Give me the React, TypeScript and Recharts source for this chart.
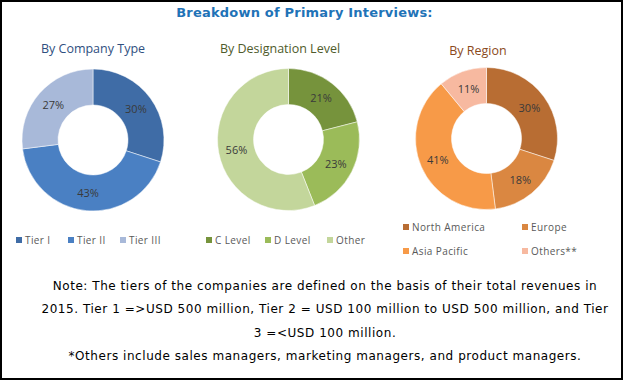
import React from "react";
import { PieChart, Pie, Cell } from "recharts";

const companyTypes = ["Tier I", "Tier II", "Tier III"];
const companyValues = [30, 43, 27];
const companyColors = ["#3F6CA6", "#4A80C3", "#A8B9D9"];

const designationLevels = ["C Level", "D Level", "Other"];
const designationValues = [21, 23, 56];
const designationColors = ["#76933C", "#9BBB59", "#C3D69B"];

const regions = ["North America", "Europe", "Asia Pacific", "Others**"];
const regionValues = [30, 18, 41, 11];
const regionColors = ["#B86D33", "#DA8741", "#F79A48", "#F7B9A0"];

const titleText = "Breakdown of Primary Interviews:";
const subtitles = ["By Company Type", "By Designation Level", "By Region"];
const noteLines = [
  "Note: The tiers of the companies are defined on the basis of their total revenues in",
  "2015. Tier 1 =>USD 500 million, Tier 2 = USD 100 million to USD 500 million, and Tier",
  "3 =<USD 100 million.",
  "*Others include sales managers, marketing managers, and product managers.",
];

const build = (names: string[], values: number[]) =>
  names.map((name, i) => ({ name, value: values[i] }));

const RAD = Math.PI / 180;
const renderLabel = (props: any) => {
  const { cx, cy, midAngle, innerRadius, outerRadius, value } = props;
  const r = (innerRadius + outerRadius) / 2;
  const x = cx + r * Math.cos(-midAngle * RAD);
  const y = cy + r * Math.sin(-midAngle * RAD);
  return (
    <text
      x={x}
      y={y}
      textAnchor="middle"
      dominantBaseline="central"
      fill="#3a3a3a"
      fontFamily="'Open Sans', sans-serif"
      fontSize={11}
    >
      {value}%
    </text>
  );
};

type LegendPos = { x: number; y: number };

const Legend = ({ names, colors, pos }: { names: string[]; colors: string[]; pos: LegendPos[] }) => (
  <>
    {names.map((n, i) => (
      <div
        key={n}
        style={{
          position: "absolute",
          left: pos[i].x,
          top: pos[i].y - 7,
          height: 14,
          display: "flex",
          alignItems: "center",
          fontFamily: "'Open Sans', sans-serif",
          fontSize: 10,
          letterSpacing: 0.4,
          color: "#595959",
          whiteSpace: "nowrap",
        }}
      >
        <span style={{ display: "inline-block", width: 6, height: 6, background: colors[i], marginRight: 3 }} />
        {n}
      </div>
    ))}
  </>
);

const legend1Pos = [
  { x: 16, y: 240 },
  { x: 68, y: 240 },
  { x: 120, y: 240 },
];
const legend2Pos = [
  { x: 206, y: 240 },
  { x: 265, y: 240 },
  { x: 327, y: 240 },
];
const legend3Pos = [
  { x: 403, y: 227 },
  { x: 522, y: 227 },
  { x: 403, y: 251 },
  { x: 522, y: 251 },
];

const subtitleStyle = (left: number, top: number, color: string): React.CSSProperties => ({
  position: "absolute",
  left,
  top,
  width: 200,
  marginLeft: -100,
  textAlign: "center",
  fontFamily: "'Open Sans', sans-serif",
  fontSize: 12.5,
  color,
  whiteSpace: "nowrap",
});

const noMargin = { top: 0, right: 0, bottom: 0, left: 0 };

export default function App() {
  return (
    <div
      style={{
        position: "absolute",
        left: 0,
        top: 0,
        width: 623,
        height: 380,
        boxSizing: "border-box",
        border: "2px solid #000",
        background: "#fff",
        overflow: "hidden",
      }}
    >
      <div
        style={{
          position: "absolute",
          left: 0,
          top: 3,
          width: 605,
          textAlign: "center",
          fontFamily: "'DejaVu Sans', sans-serif",
          fontWeight: "bold",
          fontSize: 13,
          letterSpacing: 0.2,
          color: "#1F73B7",
        }}
      >
        {titleText}
      </div>
      <div style={subtitleStyle(91, 38, "#2F4F7F")}>{subtitles[0]}</div>
      <div style={subtitleStyle(278, 38, "#4F5B2B")}>{subtitles[1]}</div>
      <div style={subtitleStyle(476, 40, "#8B4A1C")}>{subtitles[2]}</div>

      <div style={{ position: "absolute", left: -2, top: -2 }}>
        <PieChart width={623} height={380} margin={noMargin}>
          <Pie
            data={build(companyTypes, companyValues)}
            dataKey="value"
            cx={93}
            cy={140}
            innerRadius={35}
            outerRadius={71}
            startAngle={90}
            endAngle={-270}
            stroke="#fff"
            strokeWidth={0.5}
            label={renderLabel}
            labelLine={false}
            isAnimationActive={false}
          >
            {companyValues.map((_, i) => (
              <Cell key={i} fill={companyColors[i]} />
            ))}
          </Pie>
          <Pie
            data={build(designationLevels, designationValues)}
            dataKey="value"
            cx={288.5}
            cy={139.5}
            innerRadius={35}
            outerRadius={71}
            startAngle={90}
            endAngle={-270}
            stroke="#fff"
            strokeWidth={0.5}
            label={renderLabel}
            labelLine={false}
            isAnimationActive={false}
          >
            {designationValues.map((_, i) => (
              <Cell key={i} fill={designationColors[i]} />
            ))}
          </Pie>
          <Pie
            data={build(regions, regionValues)}
            dataKey="value"
            cx={486.5}
            cy={138.5}
            innerRadius={35}
            outerRadius={71}
            startAngle={90}
            endAngle={-270}
            stroke="#fff"
            strokeWidth={0.5}
            label={renderLabel}
            labelLine={false}
            isAnimationActive={false}
          >
            {regionValues.map((_, i) => (
              <Cell key={i} fill={regionColors[i]} />
            ))}
          </Pie>
        </PieChart>
      </div>

      <div style={{ position: "absolute", left: -2, top: -2 }}>
        <Legend names={companyTypes} colors={companyColors} pos={legend1Pos} />
        <Legend names={designationLevels} colors={designationColors} pos={legend2Pos} />
        <Legend names={regions} colors={regionColors} pos={legend3Pos} />
      </div>

      {noteLines.map((line, i) => (
        <div
          key={i}
          style={{
            position: "absolute",
            left: 27,
            width: 592,
            top: 277 + i * 23.3,
            textAlign: "center",
            fontFamily: "'DejaVu Sans', sans-serif",
            fontSize: 12,
            letterSpacing: 0.55,
            color: "#000",
            whiteSpace: "nowrap",
          }}
        >
          {line}
        </div>
      ))}
    </div>
  );
}
